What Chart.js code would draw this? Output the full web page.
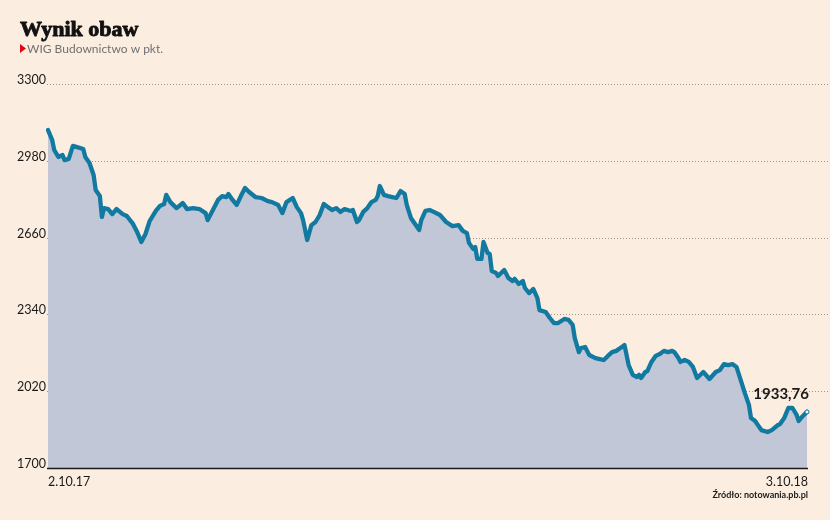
<!DOCTYPE html>
<html>
<head>
<meta charset="utf-8">
<script src="https://cdn.jsdelivr.net/npm/chart.js@4/dist/chart.umd.min.js"></script>
<style>
html,body{margin:0;padding:0;background:#fbeee1;}
#wrap{position:relative;width:830px;height:520px;}
canvas{display:block;}
</style>
</head>
<body>
<div id="wrap"><canvas id="c" width="830" height="520"></canvas></div>
<script>
// Days since 2.10.2017 (trading-day sample points)
const days = [0,2,3,5,7,8,10,12,14,17,18,20,22,23,25,26,27,29,31,33,36,38,41,42,43,45,47,49,52,54,56,57,59,62,65,67,70,73,76,77,80,82,84,86,87,89,91,93,95,97,100,103,106,108,111,113,115,118,120,122,123,125,127,129,131,133,135,137,139,141,143,146,147,149,150,152,154,156,158,159,160,162,164,166,168,170,172,173,175,177,179,180,182,184,186,189,192,195,198,200,202,203,205,206,207,209,210,212,213,214,216,217,220,222,224,225,227,229,230,232,234,236,237,240,242,244,246,249,251,253,254,256,257,259,261,264,266,268,270,272,274,276,278,280,282,284,285,286,288,289,291,293,295,297,299,301,302,304,305,307,309,311,313,316,319,322,324,326,328,330,332,334,336,338,339,341,342,344,347,349,352,353,355,357,359,361,362,364,366];
// WIG Budownictwo index value (pts)
const values = [3108,3067,3025,2996,3004,2983,2988,3042,3037,3029,2996,2971,2921,2858,2833,2746,2783,2779,2758,2779,2758,2750,2717,2700,2683,2642,2675,2729,2771,2792,2800,2838,2808,2783,2804,2779,2783,2779,2762,2733,2783,2817,2833,2829,2842,2817,2796,2833,2867,2850,2829,2825,2812,2808,2796,2762,2808,2825,2787,2762,2733,2650,2712,2725,2754,2800,2787,2775,2783,2767,2779,2771,2775,2725,2733,2767,2783,2808,2817,2833,2875,2838,2833,2829,2825,2854,2842,2796,2742,2717,2692,2733,2771,2775,2767,2754,2725,2708,2712,2688,2679,2638,2613,2621,2571,2571,2642,2596,2592,2521,2513,2500,2525,2492,2479,2488,2467,2479,2450,2429,2446,2408,2358,2350,2325,2304,2304,2321,2317,2296,2242,2183,2200,2204,2171,2158,2154,2150,2167,2183,2188,2200,2212,2129,2088,2079,2088,2075,2100,2104,2142,2167,2175,2188,2183,2188,2183,2158,2142,2150,2142,2121,2075,2100,2071,2100,2108,2133,2129,2133,2121,2067,2013,1963,1908,1896,1883,1858,1850,1858,1879,1883,1908,1950,1950,1921,1896,1917,1933.76];
const yTicks = [1700,2020,2340,2660,2980,3300];
const xTickLabels = ['2.10.17','3.10.18'];
const lastLabel = '1933,76';
const title = 'Wynik obaw';
const subtitle = 'WIG Budownictwo w pkt.';
const source = 'Źródło: notowania.pb.pl';

const pts = days.map((d,i)=>({x:d,y:values[i]}));

const decor = {
  id:'decor',
  beforeDraw(chart){
    const {ctx, chartArea:a, scales:{x,y}} = chart;
    ctx.save();
    ctx.fillStyle = '#fbeee1';
    ctx.fillRect(0,0,chart.width,chart.height);
    // title
    ctx.fillStyle = '#111';
    ctx.strokeStyle = '#111';
    ctx.lineWidth = 0.9;
    ctx.lineJoin = 'round';
    ctx.font = 'bold 22px "Liberation Serif", "DejaVu Serif", serif';
    ctx.textBaseline = 'alphabetic';
    ctx.textAlign = 'left';
    ctx.fillText(title, 20, 36);
    ctx.strokeText(title, 20, 36);
    // subtitle marker
    ctx.fillStyle = '#e30613';
    ctx.beginPath();
    ctx.moveTo(20,44); ctx.lineTo(26,48.5); ctx.lineTo(20,53); ctx.closePath(); ctx.fill();
    ctx.fillStyle = '#707070';
    ctx.font = '12px Lato, "Open Sans", sans-serif';
    ctx.fillText(subtitle, 27, 53);
    // grid lines and y labels
    ctx.font = '12.5px Lato, sans-serif';
    yTicks.forEach(t=>{
      const py = Math.round(y.getPixelForValue(t))+0.5;
      ctx.fillStyle = '#1a1a1a';
      ctx.textAlign = 'right';
      ctx.fillText(String(t), a.left-2, py-1);
      if (t !== yTicks[0]) {
        ctx.strokeStyle = '#9a948d';
        ctx.lineWidth = 1;
        ctx.setLineDash([1,2]);
        ctx.beginPath(); ctx.moveTo(a.left-1, py); ctx.lineTo(chart.width, py); ctx.stroke();
        ctx.setLineDash([]);
      }
    });
    ctx.restore();
  },
  afterDatasetsDraw(chart){
    const {ctx, chartArea:a, scales:{x,y}} = chart;
    ctx.save();
    // baseline axis
    const by = Math.round(y.getPixelForValue(yTicks[0]))+0.5;
    ctx.strokeStyle = '#1a1a1a';
    ctx.lineWidth = 1.5;
    ctx.beginPath(); ctx.moveTo(a.left-1, by); ctx.lineTo(a.right+1, by); ctx.stroke();
    // x labels
    ctx.fillStyle = '#1a1a1a';
    ctx.font = '12.5px Lato, sans-serif';
    ctx.textBaseline = 'alphabetic';
    ctx.textAlign = 'left';
    ctx.fillText(xTickLabels[0], x.getPixelForValue(days[0]), 486);
    ctx.textAlign = 'right';
    ctx.fillText(xTickLabels[1], x.getPixelForValue(days[days.length-1])+1, 486);
    // source
    ctx.font = 'bold 9px Lato, sans-serif';
    ctx.fillText(source, x.getPixelForValue(days[days.length-1])+1, 498);
    // last value label
    ctx.font = 'bold 15px Lato, sans-serif';
    ctx.fillText(lastLabel, x.getPixelForValue(days[days.length-1])+2, 399);
    ctx.restore();
  }
};

new Chart(document.getElementById('c'), {
  type:'line',
  data:{datasets:[{
    data:pts,
    borderColor:'#127aa0',
    borderWidth:4.3,
    backgroundColor:'#c1c7d6',
    fill:'start',
    tension:0,
    pointRadius: pts.map((p,i)=> i===pts.length-1 ? 2 : 0),
    pointBackgroundColor:'#ffffff',
    pointBorderColor:'#127aa0',
    pointBorderWidth:1,
    clip:false,
    borderJoinStyle:'round',
    borderCapStyle:'round'
  }]},
  options:{
    responsive:false,
    animation:false,
    devicePixelRatio:1,
    layout:{padding:{left:48,right:23,top:84,bottom:52}},
    plugins:{legend:{display:false},tooltip:{enabled:false}},
    scales:{
      x:{type:'linear',min:days[0],max:days[days.length-1],display:false},
      y:{min:yTicks[0],max:yTicks[yTicks.length-1],display:false}
    }
  },
  plugins:[decor]
});
</script>
</body>
</html>
